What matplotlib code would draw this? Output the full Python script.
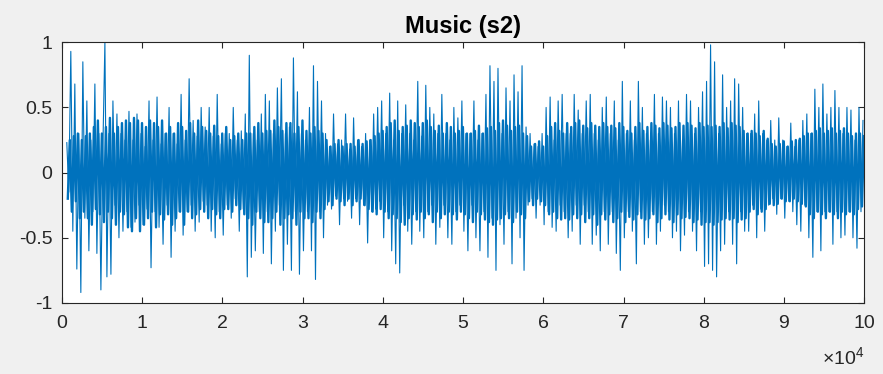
import matplotlib.pyplot as plt
import numpy as np

# Waveform: one value every 250 samples, from sample 600
sample_start = 600
sample_step = 250
signal = [
    0.23, -0.15, 0.93, -0.45, 0.68, -0.74, 0.3, -0.92, 0.85, -0.35,
    0.55, -0.6, 0.25, -0.3, 0.68, -0.62, 0.3, -0.9, 0.2, 1.0,
    -0.8, 0.3, -0.78, 0.55, -0.25, 0.45, -0.5, 0.3, -0.45, 0.25,
    -0.3, 0.47, -0.42, 0.25, -0.38, 0.45, -0.25, 0.3, -0.4, 0.2,
    -0.28, 0.55, -0.73, 0.25, -0.3, 0.58, -0.42, 0.22, -0.55, 0.3,
    -0.25, 0.5, -0.65, 0.3, -0.45, 0.22, -0.3, 0.6, -0.48, 0.25,
    -0.3, 0.72, -0.25, 0.4, -0.45, 0.28, -0.38, 0.5, -0.22, 0.35,
    -0.25, 0.5, -0.45, 0.28, -0.5, 0.6, -0.3, 0.22, -0.48, 0.3,
    -0.25, 0.3, -0.35, 0.5, -0.2, 0.25, -0.45, 0.32, -0.28, 0.45,
    -0.8, 0.9, -0.65, 0.3, -0.6, 0.25, -0.3, 0.45, -0.62, 0.6,
    -0.3, 0.55, -0.7, 0.3, -0.45, 0.65, -0.25, 0.72, -0.75, 0.3,
    -0.55, 0.35, -0.75, 0.88, -0.3, 0.62, -0.78, 0.3, -0.6, 0.25,
    -0.3, 0.5, -0.6, 0.82, -0.82, 0.7, -0.3, 0.55, -0.5, 0.3,
    -0.25, 0.2, -0.28, 0.45, -0.18, 0.22, -0.4, 0.25, -0.2, 0.45,
    -0.22, 0.18, -0.35, 0.42, -0.2, 0.25, -0.4, 0.2, -0.25, 0.3,
    -0.54, 0.25, -0.3, 0.45, -0.28, 0.5, -0.22, 0.55, -0.5, 0.3,
    -0.3, 0.61, -0.6, 0.25, -0.7, 0.55, -0.77, 0.3, -0.25, 0.52,
    -0.45, 0.3, -0.55, 0.25, -0.3, 0.7, -0.45, 0.28, -0.5, 0.67,
    -0.3, 0.5, -0.25, 0.45, -0.55, 0.3, -0.42, 0.6, -0.25, 0.3,
    -0.5, 0.25, -0.55, 0.5, -0.3, 0.42, -0.25, 0.55, -0.45, 0.3,
    -0.6, 0.3, -0.25, 0.55, -0.5, 0.25, -0.6, 0.3, -0.3, 0.6,
    -0.65, 0.82, -0.35, 0.7, -0.75, 0.8, -0.4, 0.3, -0.55, 0.65,
    -0.3, 0.55, -0.7, 0.75, -0.35, 0.62, -0.5, 0.82, -0.75, 0.35,
    -0.25, 0.3, -0.2, 0.22, -0.35, 0.2, -0.25, 0.3, -0.4, 0.5,
    -0.3, 0.58, -0.42, 0.25, -0.45, 0.55, -0.25, 0.6, -0.3, 0.3,
    -0.5, 0.3, -0.45, 0.6, -0.25, 0.48, -0.55, 0.3, -0.25, 0.55,
    -0.3, 0.6, -0.55, 0.3, -0.48, 0.25, -0.6, 0.5, -0.3, 0.58,
    -0.55, 0.3, -0.3, 0.55, -0.62, 0.25, -0.75, 0.7, -0.5, 0.3,
    -0.3, 0.55, -0.45, 0.25, -0.7, 0.7, -0.3, 0.5, -0.55, 0.3,
    -0.5, 0.25, -0.3, 0.6, -0.55, 0.3, -0.45, 0.58, -0.25, 0.55,
    -0.3, 0.5, -0.5, 0.3, -0.45, 0.55, -0.6, 0.25, -0.48, 0.6,
    -0.3, 0.55, -0.45, 0.3, -0.6, 0.5, -0.3, 0.62, -0.72, 0.7,
    -0.7, 0.98, -0.75, 0.85, -0.8, 0.3, -0.6, 0.75, -0.55, 0.5,
    -0.3, 0.55, -0.55, 0.72, -0.7, 0.68, -0.3, 0.5, -0.45, 0.3,
    -0.45, 0.3, -0.25, 0.45, -0.5, 0.55, -0.28, 0.3, -0.45, 0.25,
    -0.25, 0.4, -0.2, 0.25, -0.32, 0.42, -0.2, 0.25, -0.35, 0.2,
    -0.22, 0.38, -0.3, 0.2, -0.4, 0.25, -0.45, 0.4, -0.25, 0.45,
    -0.5, 0.3, -0.65, 0.64, -0.3, 0.5, -0.6, 0.68, -0.3, 0.45,
    -0.3, 0.5, -0.55, 0.63, -0.3, 0.5, -0.5, 0.3, -0.48, 0.5,
    -0.3, 0.48, -0.5, 0.25, -0.58, 0.5, -0.3, 0.4,
]

# Dense inner part of the waveform, read between the samples above (offset 125)
inner_offset = 125
inner = [
    -0.2, 0.25, -0.3, 0.28, -0.22, 0.3, -0.35, 0.25, -0.3, 0.28,
    -0.35, 0.3, -0.4, 0.35, -0.28, 0.4, -0.32, 0.3, -0.38, 0.35,
    -0.3, 0.42, -0.35, 0.3, -0.4, 0.35, -0.3, 0.38, -0.32, 0.4,
    -0.42, 0.38, -0.45, 0.42, -0.35, 0.4, -0.45, 0.38, -0.4, 0.35,
    -0.35, 0.4, -0.3, 0.38, -0.42, 0.35, -0.32, 0.4, -0.36, 0.3,
    -0.32, 0.35, -0.4, 0.3, -0.35, 0.38, -0.3, 0.35, -0.4, 0.32,
    -0.3, 0.38, -0.35, 0.3, -0.32, 0.4, -0.28, 0.35, -0.3, 0.32,
    -0.35, 0.3, -0.28, 0.36, -0.32, 0.28, -0.35, 0.3, -0.28, 0.35,
    -0.28, 0.25, -0.3, 0.28, -0.25, 0.3, -0.28, 0.25, -0.32, 0.3,
    -0.35, 0.3, -0.4, 0.35, -0.3, 0.38, -0.35, 0.3, -0.38, 0.32,
    -0.38, 0.32, -0.35, 0.4, -0.3, 0.35, -0.4, 0.32, -0.35, 0.38,
    -0.32, 0.38, -0.35, 0.3, -0.4, 0.35, -0.3, 0.4, -0.35, 0.32,
    -0.35, 0.3, -0.38, 0.35, -0.3, 0.32, -0.35, 0.3, -0.28, 0.25,
    -0.22, 0.2, -0.25, 0.22, -0.2, 0.25, -0.22, 0.2, -0.25, 0.22,
    -0.2, 0.22, -0.25, 0.2, -0.22, 0.25, -0.2, 0.22, -0.25, 0.24,
    -0.28, 0.25, -0.3, 0.28, -0.32, 0.3, -0.28, 0.32, -0.3, 0.35,
    -0.35, 0.38, -0.32, 0.4, -0.35, 0.32, -0.38, 0.35, -0.4, 0.36,
    -0.35, 0.4, -0.32, 0.38, -0.36, 0.35, -0.3, 0.38, -0.35, 0.4,
    -0.32, 0.35, -0.38, 0.32, -0.3, 0.36, -0.35, 0.3, -0.32, 0.38,
    -0.3, 0.35, -0.32, 0.3, -0.36, 0.32, -0.3, 0.35, -0.32, 0.3,
    -0.35, 0.3, -0.38, 0.32, -0.3, 0.36, -0.32, 0.3, -0.36, 0.34,
    -0.38, 0.35, -0.4, 0.32, -0.36, 0.38, -0.35, 0.4, -0.32, 0.36,
    -0.35, 0.32, -0.38, 0.35, -0.3, 0.36, -0.32, 0.3, -0.35, 0.28,
    -0.22, 0.2, -0.25, 0.22, -0.2, 0.24, -0.22, 0.2, -0.25, 0.28,
    -0.32, 0.35, -0.3, 0.38, -0.35, 0.32, -0.36, 0.3, -0.35, 0.38,
    -0.36, 0.35, -0.32, 0.38, -0.35, 0.4, -0.32, 0.36, -0.38, 0.34,
    -0.35, 0.38, -0.32, 0.36, -0.4, 0.35, -0.32, 0.38, -0.36, 0.35,
    -0.32, 0.36, -0.38, 0.34, -0.35, 0.38, -0.3, 0.35, -0.38, 0.32,
    -0.34, 0.3, -0.36, 0.35, -0.32, 0.38, -0.35, 0.32, -0.36, 0.35,
    -0.35, 0.38, -0.32, 0.36, -0.38, 0.34, -0.35, 0.38, -0.32, 0.36,
    -0.36, 0.34, -0.38, 0.35, -0.32, 0.38, -0.35, 0.36, -0.34, 0.38,
    -0.35, 0.36, -0.38, 0.34, -0.36, 0.38, -0.4, 0.35, -0.38, 0.36,
    -0.38, 0.35, -0.4, 0.36, -0.38, 0.35, -0.36, 0.38, -0.35, 0.34,
    -0.36, 0.38, -0.35, 0.36, -0.38, 0.35, -0.36, 0.32, -0.35, 0.3,
    -0.3, 0.32, -0.28, 0.3, -0.32, 0.28, -0.3, 0.32, -0.28, 0.26,
    -0.24, 0.22, -0.25, 0.2, -0.24, 0.22, -0.2, 0.24, -0.22, 0.2,
    -0.22, 0.24, -0.2, 0.25, -0.22, 0.26, -0.24, 0.28, -0.26, 0.3,
    -0.32, 0.3, -0.35, 0.32, -0.3, 0.34, -0.32, 0.3, -0.35, 0.32,
    -0.3, 0.34, -0.32, 0.3, -0.35, 0.32, -0.3, 0.34, -0.32, 0.3,
    -0.3, 0.28, -0.32, 0.3, -0.28, 0.3, -0.26, 0.28,
]

x_ticks = [0, 1e4, 2e4, 3e4, 4e4, 5e4, 6e4, 7e4, 8e4, 9e4, 1e5]
x_labels = ["0", "1", "2", "3", "4", "5", "6", "7", "8", "9", "10"]
y_ticks = [-1, -0.5, 0, 0.5, 1]
y_labels = ["-1", "-0.5", "0", "0.5", "1"]

plt.rcParams["font.family"] = ["Liberation Sans", "DejaVu Sans"]

samples = sample_start + sample_step * np.arange(len(signal))
inner_samples = sample_start + inner_offset + sample_step * np.arange(len(inner))

fig = plt.figure(figsize=(8.83, 3.74), dpi=100, facecolor="#f0f0f0")
ax = fig.add_axes([0.0702, 0.19, 0.9085, 0.697])
ax.plot(inner_samples, inner, color="#0072bd", linewidth=1.7)
ax.plot(samples, signal, color="#0072bd", linewidth=0.8)

ax.set_xlim(0, 1e5)
ax.set_ylim(-1, 1)
ax.set_xticks(x_ticks)
ax.set_xticklabels(x_labels)
ax.set_yticks(y_ticks)
ax.set_yticklabels(y_labels)
ax.tick_params(direction="in", length=4, width=0.8, top=True, right=True,
               labelsize=14, colors="#262626")
ax.tick_params(axis="x", pad=9)
ax.tick_params(axis="y", pad=7)
for s in ax.spines.values():
    s.set_color("#262626")
    s.set_linewidth(0.8)

ax.set_title("Music (s2)", fontsize=17, fontweight="bold", pad=7)
ax.text(1.0, -0.165, r"$\mathregular{\times10^{4}}$", transform=ax.transAxes,
        ha="right", va="top", fontsize=14, color="#262626")

plt.savefig("out.png", dpi=100, facecolor=fig.get_facecolor())
